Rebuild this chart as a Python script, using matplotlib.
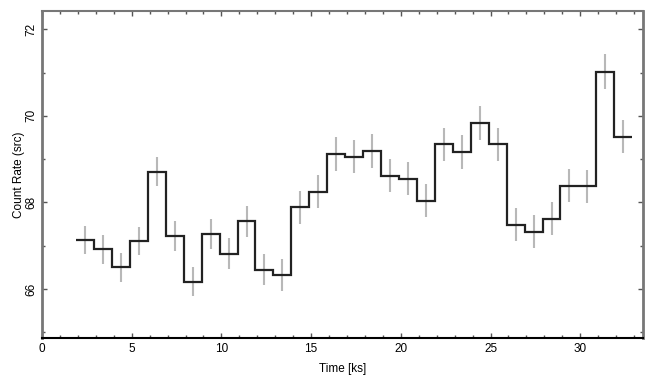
import matplotlib
matplotlib.use('Agg')
import matplotlib.pyplot as plt
import numpy as np

plt.rcParams['font.family'] = ['Liberation Sans', 'DejaVu Sans']

# light curve, 1 ks bins
t_start = 1.9
bin_width = 1.0
rate = [67.13, 66.92, 66.50, 67.11, 68.71, 67.23, 66.17, 67.27, 66.82,
        67.56, 66.45, 66.32, 67.89, 68.25, 69.11, 69.06, 69.19, 68.62,
        68.55, 68.04, 69.34, 69.17, 69.83, 69.34, 67.49, 67.32, 67.62,
        68.39, 68.37, 71.02, 69.52]
err = [0.33, 0.33, 0.33, 0.33, 0.34, 0.34, 0.34, 0.35, 0.35, 0.36, 0.36,
       0.37, 0.38, 0.38, 0.39, 0.39, 0.39, 0.38, 0.38, 0.38, 0.39, 0.39,
       0.39, 0.39, 0.38, 0.38, 0.38, 0.39, 0.39, 0.40, 0.39]

rate = np.array(rate)
edges = t_start + bin_width * np.arange(len(rate) + 1)
centers = 0.5 * (edges[:-1] + edges[1:])

fig = plt.figure(figsize=(6.55, 3.85), dpi=100)
ax = fig.add_axes([42/655, 1 - 338/385, (643 - 42)/655, (338 - 11)/385])

ax.errorbar(centers, rate, yerr=err, fmt='none', ecolor='#b8b8b8',
            elinewidth=1.5, capsize=0, zorder=1)
ax.stairs(rate, edges, color='#222222', linewidth=1.6, baseline=None, zorder=2)

ax.set_xlim(0, 33.5)
ax.set_ylim(64.87, 72.42)
ax.set_xticks([0, 5, 10, 15, 20, 25, 30])
ax.set_xticks(np.arange(0, 34, 1), minor=True)
ax.set_yticks([66, 68, 70, 72])
ax.set_yticks([65, 67, 69, 71], minor=True)
ax.tick_params(which='both', direction='in', top=True, right=True,
               labelsize=8.5, color='#555555')
ax.tick_params(which='major', length=3.5, width=1)
ax.tick_params(which='minor', length=2.5, width=1)
for lbl in ax.get_yticklabels():
    lbl.set_rotation(90)
    lbl.set_verticalalignment('center')

for s in ['left', 'right']:
    ax.spines[s].set_color('#777777')
    ax.spines[s].set_linewidth(2)
ax.spines['top'].set_color('#777777')
ax.spines['top'].set_linewidth(1.5)
ax.spines['bottom'].set_color('black')
ax.spines['bottom'].set_linewidth(1.5)

ax.set_xlabel('Time [ks]', fontsize=8.5, labelpad=6)
ax.set_ylabel('Count Rate (src)', fontsize=8.5, labelpad=0)

fig.savefig('out.png', dpi=100)
